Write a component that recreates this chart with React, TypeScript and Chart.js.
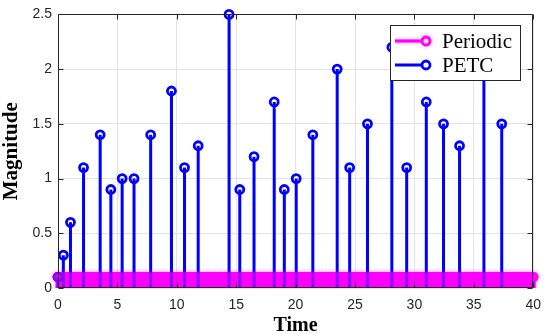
import React, { useEffect, useRef } from "react";
import { Chart, registerables } from "chart.js";

Chart.register(...registerables);

const seriesNames = ["Periodic", "PETC"];
const xTicks = [0, 5, 10, 15, 20, 25, 30, 35, 40];
const xTickLabels = ["0", "5", "10", "15", "20", "25", "30", "35", "40"];
const yTicks = [0, 0.5, 1, 1.5, 2, 2.5];
const yTickLabels = ["0", "0.5", "1", "1.5", "2", "2.5"];

const petcTimes = [
  0, 0.45, 1.05, 2.15, 3.55, 4.45, 5.4, 6.4, 7.8, 9.55, 10.65, 11.8, 14.4, 15.3, 16.5,
  18.2, 19.05, 20.05, 21.45, 23.5, 24.55, 26.05, 28.1, 29.35, 31.0, 32.45, 33.8, 35.85, 37.35,
];
const petcValues = [
  0.1, 0.3, 0.6, 1.1, 1.4, 0.9, 1.0, 1.0, 1.4, 1.8, 1.1, 1.3, 2.5, 0.9, 1.2,
  1.7, 0.9, 1.0, 1.4, 2.0, 1.1, 1.5, 2.2, 1.1, 1.7, 1.5, 1.3, 2.2, 1.5,
];

const periodicTimes = [
  0, 0.25, 0.5, 0.75, 1, 1.25, 1.5, 1.75,
  2, 2.25, 2.5, 2.75, 3, 3.25, 3.5, 3.75,
  4, 4.25, 4.5, 4.75, 5, 5.25, 5.5, 5.75,
  6, 6.25, 6.5, 6.75, 7, 7.25, 7.5, 7.75,
  8, 8.25, 8.5, 8.75, 9, 9.25, 9.5, 9.75,
  10, 10.25, 10.5, 10.75, 11, 11.25, 11.5, 11.75,
  12, 12.25, 12.5, 12.75, 13, 13.25, 13.5, 13.75,
  14, 14.25, 14.5, 14.75, 15, 15.25, 15.5, 15.75,
  16, 16.25, 16.5, 16.75, 17, 17.25, 17.5, 17.75,
  18, 18.25, 18.5, 18.75, 19, 19.25, 19.5, 19.75,
  20, 20.25, 20.5, 20.75, 21, 21.25, 21.5, 21.75,
  22, 22.25, 22.5, 22.75, 23, 23.25, 23.5, 23.75,
  24, 24.25, 24.5, 24.75, 25, 25.25, 25.5, 25.75,
  26, 26.25, 26.5, 26.75, 27, 27.25, 27.5, 27.75,
  28, 28.25, 28.5, 28.75, 29, 29.25, 29.5, 29.75,
  30, 30.25, 30.5, 30.75, 31, 31.25, 31.5, 31.75,
  32, 32.25, 32.5, 32.75, 33, 33.25, 33.5, 33.75,
  34, 34.25, 34.5, 34.75, 35, 35.25, 35.5, 35.75,
  36, 36.25, 36.5, 36.75, 37, 37.25, 37.5, 37.75,
  38, 38.25, 38.5, 38.75, 39, 39.25, 39.5, 39.75,
  40,
];
const periodicValues = [
  0.1, 0.1, 0.1, 0.1, 0.1, 0.1, 0.1, 0.1,
  0.1, 0.1, 0.1, 0.1, 0.1, 0.1, 0.1, 0.1,
  0.1, 0.1, 0.1, 0.1, 0.1, 0.1, 0.1, 0.1,
  0.1, 0.1, 0.1, 0.1, 0.1, 0.1, 0.1, 0.1,
  0.1, 0.1, 0.1, 0.1, 0.1, 0.1, 0.1, 0.1,
  0.1, 0.1, 0.1, 0.1, 0.1, 0.1, 0.1, 0.1,
  0.1, 0.1, 0.1, 0.1, 0.1, 0.1, 0.1, 0.1,
  0.1, 0.1, 0.1, 0.1, 0.1, 0.1, 0.1, 0.1,
  0.1, 0.1, 0.1, 0.1, 0.1, 0.1, 0.1, 0.1,
  0.1, 0.1, 0.1, 0.1, 0.1, 0.1, 0.1, 0.1,
  0.1, 0.1, 0.1, 0.1, 0.1, 0.1, 0.1, 0.1,
  0.1, 0.1, 0.1, 0.1, 0.1, 0.1, 0.1, 0.1,
  0.1, 0.1, 0.1, 0.1, 0.1, 0.1, 0.1, 0.1,
  0.1, 0.1, 0.1, 0.1, 0.1, 0.1, 0.1, 0.1,
  0.1, 0.1, 0.1, 0.1, 0.1, 0.1, 0.1, 0.1,
  0.1, 0.1, 0.1, 0.1, 0.1, 0.1, 0.1, 0.1,
  0.1, 0.1, 0.1, 0.1, 0.1, 0.1, 0.1, 0.1,
  0.1, 0.1, 0.1, 0.1, 0.1, 0.1, 0.1, 0.1,
  0.1, 0.1, 0.1, 0.1, 0.1, 0.1, 0.1, 0.1,
  0.1, 0.1, 0.1, 0.1, 0.1, 0.1, 0.1, 0.1,
  0.1,
];

const BLUE = "#0000ff";
const MAGENTA = "#ff00ff";
const AXIS = "#262626";
const GRID = "#e3e3e3";
const SANS = "'Liberation Sans', Arial, sans-serif";
const SERIF = "'Liberation Serif', 'Times New Roman', serif";
const STEM_W = 3;
const MARK_R = 4;
const MARK_W = 2.8;

type Pt = { x: number; y: number };

function strokeMagenta(ctx: CanvasRenderingContext2D, build: () => void) {
  ctx.save();
  ctx.beginPath();
  build();
  ctx.strokeStyle = "rgba(255,0,255,0.1)";
  ctx.lineWidth = 8;
  ctx.lineJoin = "round";
  ctx.stroke();
  ctx.restore();
  ctx.save();
  ctx.beginPath();
  build();
  ctx.strokeStyle = "rgba(255,0,255,0.5)";
  ctx.lineWidth = MARK_W;
  ctx.stroke();
  ctx.restore();
  ctx.save();
  ctx.globalCompositeOperation = "multiply";
  ctx.beginPath();
  build();
  ctx.strokeStyle = MAGENTA;
  ctx.lineWidth = MARK_W;
  ctx.stroke();
  ctx.restore();
}

const stemPlugin = {
  id: "stems",
  beforeDraw(chart: any) {
    const ctx = chart.ctx;
    ctx.save();
    ctx.fillStyle = "#ffffff";
    ctx.fillRect(0, 0, chart.width, chart.height);
    ctx.restore();
  },
  beforeDatasetDraw(chart: any, args: any) {
    const ctx: CanvasRenderingContext2D = chart.ctx;
    const y0 = chart.scales.y.getPixelForValue(0);
    const pts: Pt[] = args.meta.data.map((e: any) => ({ x: e.x, y: e.y }));
    if (args.index === 1) {
      ctx.save();
      ctx.strokeStyle = BLUE;
      ctx.lineWidth = STEM_W;
      ctx.beginPath();
      pts.forEach((p) => {
        ctx.moveTo(p.x, y0);
        ctx.lineTo(p.x, p.y);
      });
      ctx.stroke();
      ctx.restore();
    } else {
      const build = () => {
        pts.forEach((p) => {
          ctx.moveTo(p.x - 1, y0);
          ctx.lineTo(p.x - 1, p.y);
          ctx.moveTo(p.x + 1, y0);
          ctx.lineTo(p.x + 1, p.y);
          ctx.moveTo(p.x + MARK_R, p.y);
          ctx.arc(p.x, p.y, MARK_R, 0, Math.PI * 2);
        });
      };
      strokeMagenta(ctx, build);
    }
  },
  afterDatasetsDraw(chart: any) {
    const ctx: CanvasRenderingContext2D = chart.ctx;
    const a = chart.chartArea;
    const xs = chart.scales.x;
    const ys = chart.scales.y;
    const L = Math.round(a.left) + 0.5;
    const R = Math.round(a.right) - 0.5;
    const T = Math.round(a.top) + 0.5;
    const B = Math.round(a.bottom) - 0.5;
    ctx.save();
    ctx.strokeStyle = AXIS;
    ctx.lineWidth = 1;
    ctx.beginPath();
    ctx.rect(L, T, R - L, B - T);
    const tl = 5;
    xTicks.forEach((v) => {
      const x = Math.round(xs.getPixelForValue(v)) + 0.5;
      ctx.moveTo(x, B);
      ctx.lineTo(x, B - tl);
      ctx.moveTo(x, T);
      ctx.lineTo(x, T + tl);
    });
    yTicks.forEach((v) => {
      const y = Math.round(ys.getPixelForValue(v)) + 0.5;
      ctx.moveTo(L, y);
      ctx.lineTo(L + tl, y);
      ctx.moveTo(R, y);
      ctx.lineTo(R - tl, y);
    });
    ctx.stroke();
    ctx.restore();
  },
  afterDraw(chart: any) {
    const ctx: CanvasRenderingContext2D = chart.ctx;
    const a = chart.chartArea;
    const bx = Math.round(a.right - 143);
    const by = Math.round(a.top + 10.5);
    const bw = 130;
    const bh = 55;
    ctx.save();
    ctx.fillStyle = "#ffffff";
    ctx.fillRect(bx, by, bw, bh);
    ctx.strokeStyle = AXIS;
    ctx.lineWidth = 1;
    ctx.strokeRect(bx + 0.5, by + 0.5, bw, bh);
    const rows = [by + 16, by + 40];
    const x1 = bx + 5;
    const x2 = bx + 36;
    strokeMagenta(ctx, () => {
      ctx.moveTo(x1, rows[0]);
      ctx.lineTo(x2 - MARK_R, rows[0]);
      ctx.moveTo(x2 + MARK_R, rows[0]);
      ctx.arc(x2, rows[0], MARK_R, 0, Math.PI * 2);
    });
    ctx.strokeStyle = BLUE;
    ctx.lineWidth = STEM_W;
    ctx.beginPath();
    ctx.moveTo(x1, rows[1]);
    ctx.lineTo(x2 - MARK_R, rows[1]);
    ctx.stroke();
    ctx.lineWidth = MARK_W;
    ctx.beginPath();
    ctx.arc(x2, rows[1], MARK_R, 0, Math.PI * 2);
    ctx.stroke();
    ctx.fillStyle = "#000000";
    ctx.font = `21px ${SERIF}`;
    ctx.textBaseline = "middle";
    ctx.textAlign = "left";
    seriesNames.forEach((n, i) => ctx.fillText(n, bx + 52, rows[i] + 1));
    ctx.restore();
  },
};

export default function App() {
  const ref = useRef<HTMLCanvasElement | null>(null);
  useEffect(() => {
    if (!ref.current) return;
    const chart = new Chart(ref.current, {
      type: "scatter",
      data: {
        datasets: [
          {
            label: seriesNames[0],
            data: periodicTimes.map((t, i) => ({ x: t, y: periodicValues[i] })),
            pointRadius: 0,
            pointHoverRadius: 0,
            showLine: false,
            clip: false as any,
          },
          {
            label: seriesNames[1],
            data: petcTimes.map((t, i) => ({ x: t, y: petcValues[i] })),
            pointStyle: "circle",
            pointRadius: MARK_R,
            pointHoverRadius: MARK_R,
            pointBorderWidth: MARK_W,
            pointBorderColor: BLUE,
            pointBackgroundColor: "rgba(0,0,0,0)",
            showLine: false,
            clip: false as any,
          },
        ],
      },
      options: {
        responsive: false,
        animation: false,
        events: [],
        layout: { padding: { left: 0, right: 10, top: 8, bottom: 0 } },
        plugins: { legend: { display: false }, tooltip: { enabled: false } },
        scales: {
          x: {
            type: "linear",
            min: 0,
            max: 40,
            afterBuildTicks: (s: any) => {
              s.ticks = xTicks.map((v) => ({ value: v }));
            },
            afterFit: (s: any) => {
              s.height = 46;
            },
            ticks: {
              autoSkip: false,
              maxRotation: 0,
              padding: 9,
              color: AXIS,
              font: { family: SANS, size: 14 },
              callback: (v: any) => xTickLabels[xTicks.indexOf(Number(v))] ?? "",
            },
            grid: { color: GRID, drawTicks: false, lineWidth: 1 },
            border: { display: false },
            title: {
              display: true,
              text: "Time",
              color: "#000000",
              padding: { top: 0, bottom: 0 },
              font: { family: SERIF, size: 20, weight: "bold", lineHeight: 0.8 },
            },
          },
          y: {
            type: "linear",
            min: 0,
            max: 2.5,
            afterBuildTicks: (s: any) => {
              s.ticks = yTicks.map((v) => ({ value: v }));
            },
            afterFit: (s: any) => {
              s.width = 58;
            },
            ticks: {
              autoSkip: false,
              padding: 6,
              color: AXIS,
              font: { family: SANS, size: 14 },
              callback: (v: any) => yTickLabels[yTicks.indexOf(Number(v))] ?? "",
            },
            grid: { color: GRID, drawTicks: false, lineWidth: 1 },
            border: { display: false },
            title: {
              display: true,
              text: "Magnitude",
              color: "#000000",
              padding: { top: 1, bottom: 0 },
              font: { family: SERIF, size: 21, weight: "bold", lineHeight: 1 },
            },
          },
        },
      },
      plugins: [stemPlugin],
    } as any);
    return () => chart.destroy();
  }, []);
  return (
    <div style={{ position: "absolute", left: 0, top: 0, width: 550, height: 334 }}>
      <canvas ref={ref} width={550} height={334} style={{ width: 550, height: 334, display: "block" }} />
    </div>
  );
}
